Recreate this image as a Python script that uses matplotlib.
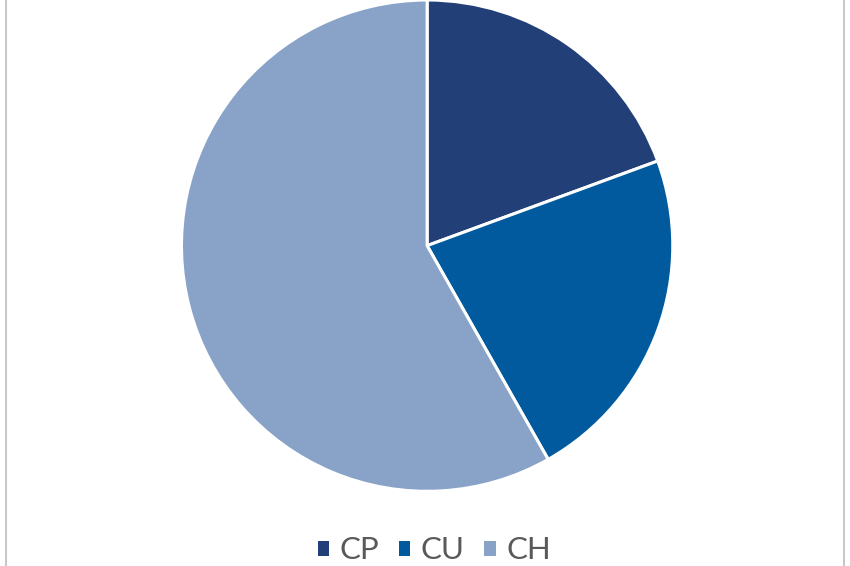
import matplotlib
matplotlib.use('Agg')
import matplotlib.pyplot as plt
from matplotlib.lines import Line2D

labels = ['CP', 'CU', 'CH']
shares = [19.4, 22.4, 58.2]
colors = ['#223f77', '#015a9d', '#88a2c8']

fig = plt.figure(figsize=(8.5, 5.66), dpi=100)
ax = fig.add_axes([0.2135, 0.132, 0.578, 0.868])
wedges, _ = ax.pie(shares, colors=colors, startangle=90, counterclock=False,
                   wedgeprops=dict(edgecolor='white', linewidth=2.2))
ax.set_xlim(-1, 1)
ax.set_ylim(-1, 1)
ax.set_aspect('equal')

# chart frame edges (left / right)
fig.add_artist(Line2D([0.0075, 0.0075], [0, 1], color='#c8c8c8', lw=1.5))
fig.add_artist(Line2D([0.9935, 0.9935], [0, 1], color='#c8c8c8', lw=1.5))

fig.legend(wedges, labels, loc='lower center', bbox_to_anchor=(0.511, -0.047),
           ncol=3, frameon=False, handlelength=0.37, handleheight=0.37,
           handletextpad=0.33, columnspacing=0.62,
           prop=dict(family=['Lato', 'DejaVu Sans'], size=22.5),
           labelcolor='#595959')
for h in fig.legends[0].legend_handles:
    h.set_edgecolor('none')

fig.savefig('out.png', dpi=100, facecolor='white')
